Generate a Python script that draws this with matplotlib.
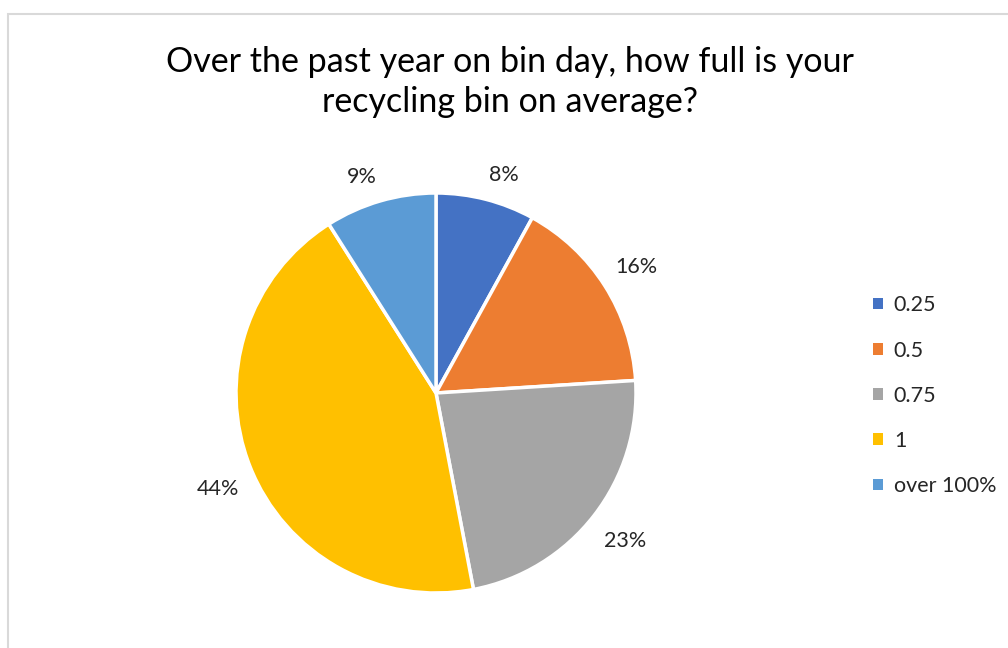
import numpy as np
import matplotlib.pyplot as plt
from matplotlib.patches import Rectangle, Patch

plt.rcParams['font.family'] = ['Lato', 'DejaVu Sans']

categories = ['0.25', '0.5', '0.75', '1', 'over 100%']
shares = [8, 16, 23, 44, 9]
colors = ['#4472C4', '#ED7D31', '#A5A5A5', '#FFC000', '#5B9BD5']
title = 'Over the past year on bin day, how full is your\nrecycling bin on average?'

W, H = 1008, 648
fig = plt.figure(figsize=(W / 100, H / 100), dpi=100)

# chart frame, runs off the right and bottom edges
fig.patches.append(Rectangle((8 / W, -0.1), 1.2, 1 - 14 / H + 0.1,
                             transform=fig.transFigure, fill=False,
                             edgecolor='#D9D9D9', linewidth=1.5))

cx, cy, r = 436, 393, 200
ax = fig.add_axes([(cx - r) / W, (H - cy - r) / H, 2 * r / W, 2 * r / H])
wedges, _ = ax.pie(
    shares, colors=colors, startangle=90, counterclock=False, radius=1.0,
    wedgeprops=dict(edgecolor='white', linewidth=2.5))

# outside-end labels: box corner sits just past the rim at the mid angle
for w, s in zip(wedges, shares):
    mid = np.deg2rad((w.theta1 + w.theta2) / 2)
    x, y = 1.06 * np.cos(mid), 1.06 * np.sin(mid)
    ax.annotate(f'{s}%', (x, y), xytext=(0, 2 if y > 0 else -6),
                textcoords='offset points', fontsize=15.5, color='#262626',
                ha='left' if x > 0 else 'right',
                va='bottom' if y > 0 else 'top', annotation_clip=False)

ax.set_xlim(-1, 1)
ax.set_ylim(-1, 1)
ax.set_aspect('equal')
ax.axis('off')

fig.text(510 / W, 1 - 82 / H, title, ha='center', va='center',
         fontsize=24.5, color='black', linespacing=1.32)

handles = [Patch(facecolor=c, edgecolor='none') for c in colors]
fig.legend(handles, categories, loc='upper left',
           bbox_to_anchor=(854 / W, 1 - 276 / H), frameon=False,
           fontsize=15.5, handlelength=0.45, handleheight=0.45,
           handletextpad=0.5, labelspacing=1.17, labelcolor='#262626')

fig.savefig('out.png', dpi=100)
